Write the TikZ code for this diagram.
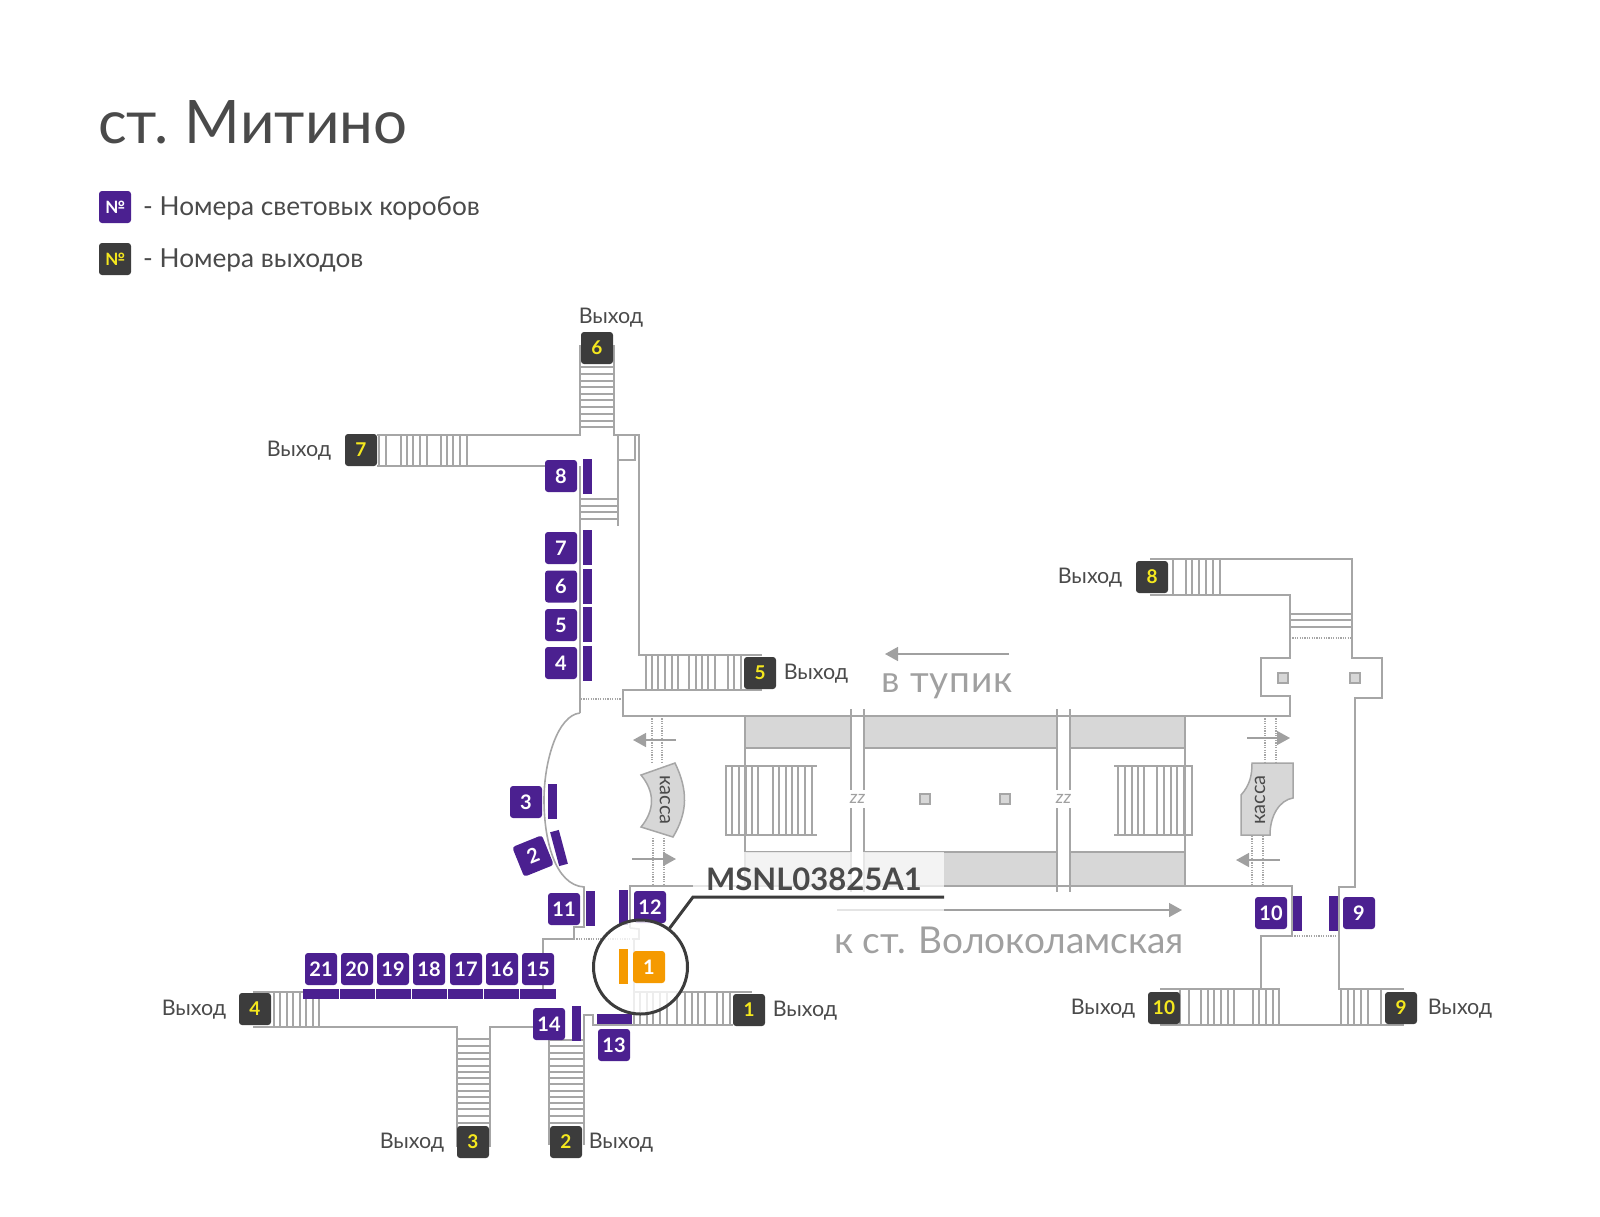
\documentclass[tikz,border=0pt]{standalone}
\usepackage{fontspec}
\setmainfont{Lato}
\usetikzlibrary{arrows.meta}
\definecolor{purp}{HTML}{4B2090}
\definecolor{darkb}{HTML}{3C3C3C}
\definecolor{yell}{HTML}{F5E81E}
\definecolor{wallc}{HTML}{A6A6A6}
\definecolor{grayf}{HTML}{D7D7D7}
\definecolor{oran}{HTML}{F59A00}
\definecolor{txt}{HTML}{4A4A4A}
\definecolor{arrc}{HTML}{A0A0A0}
\tikzset{
  x=1pt,y=-1pt,
  wall/.style={draw=wallc,line width=1.6pt},
  dots/.style={draw=wallc,line width=1.3pt,dash pattern=on 1.2pt off 1.2pt},
  grayrect/.style={fill=grayf,draw=wallc,line width=1.2pt},
  sq/.style={fill=grayf,draw=wallc,line width=1.2pt},
  kassa/.style={fill=grayf,draw=wallc,line width=1.5pt},
  pbox/.style={fill=purp,rounded corners=3pt,minimum size=32pt,inner sep=0pt,text=white,font=\fontsize{20}{20}\selectfont\bfseries},
  ebox/.style={fill=darkb,rounded corners=3pt,minimum size=32pt,inner sep=0pt,text=yell,font=\fontsize{19}{19}\selectfont\bfseries},
  obox/.style={fill=oran,rounded corners=3pt,minimum size=32pt,inner sep=0pt,text=white,font=\fontsize{20}{20}\selectfont\bfseries},
  pbar/.style={fill=purp,minimum width=9pt,minimum height=35pt,inner sep=0pt},
  obar/.style={fill=oran,minimum width=9pt,minimum height=35pt,inner sep=0pt},
  hbar/.style={fill=purp,minimum width=35pt,minimum height=10pt,inner sep=0pt},
  exitlab/.style={text=txt,inner sep=0pt,font=\fontsize{21.5}{21.5}\selectfont},
  kassat/.style={text=txt,inner sep=0pt,font=\fontsize{20}{20}\selectfont},
  dirlab/.style={text=arrc,inner sep=0pt,font=\addfontfeatures{LetterSpace=2}\fontsize{37}{37}\selectfont},
  dirlabb/.style={text=arrc,inner sep=0pt,font=\fontsize{37}{37}\selectfont},
  dirarr/.style={draw=arrc,line width=1.5pt,-{Triangle[length=13pt,width=14pt]}},
  zz/.style={text=arrc,inner sep=0pt,font=\fontsize{18}{18}\selectfont\itshape},
  legend/.style={text=txt,anchor=west,inner sep=0pt,font=\fontsize{26.2}{26.2}\selectfont}
}
\newcommand\vrungs[3]{\foreach \xx in {#1} \draw[wall] (\xx,#2) -- (\xx,#3);}
\newcommand\hrungs[3]{\foreach \yy in {#1} \draw[wall] (#2,\yy) -- (#3,\yy);}
\begin{document}
\begin{tikzpicture}
\useasboundingbox (0,0) rectangle (1600,1216);
% title and legend
\node[text=txt,anchor=base west,inner sep=0pt,font=\fontsize{60}{60}\selectfont] (title) at (98,143) {ст.\kern 16pt Митино};
\node[pbox,font=\fontsize{17}{17}\selectfont\bfseries] (legp) at (115,207) {№};
\node[ebox,font=\fontsize{17}{17}\selectfont\bfseries] (lege) at (115,259) {№};
\node[legend] (legpt) at (143,208) {- Номера световых коробов};
\node[legend] (legett) at (143,260) {- Номера выходов};
% gray platform bands
\foreach \a/\b in {745/851,864/1057,1070/1185} {
  \draw[grayrect] (\a,716) rectangle (\b,748);
  \draw[grayrect] (\a,852) rectangle (\b,886);
}
% north part walls
\draw[wall] (580,345) -- (580,435) -- (377,435);
\draw[wall] (614,345) -- (614,435) -- (639,435) -- (639,655) -- (762,655);
\draw[wall] (377,466) -- (577,466);
\draw[wall] (580,466) -- (580,713);
\draw[wall] (618,435) -- (618,526);
\draw[wall] (618,460) -- (635,460) -- (635,435);
\hrungs{367,374,381,387,394,400,407,414,421,427}{580}{614}
\vrungs{379,386,401,407,413,420,427,441,447,453,460,467}{435}{466}
\hrungs{499,506,512,519}{580}{618}
\vrungs{646,652,658,665,672,678,689,696,702,708,715,728,734,741}{655}{690}
% main hall
\draw[wall] (762,690) -- (623,690) -- (623,716) -- (1290,716) -- (1290,696) -- (1261,696) -- (1261,658) -- (1290,658) -- (1290,595) -- (1150,595);
\draw[wall] (1150,559) -- (1352,559) -- (1352,658) -- (1382,658) -- (1382,698) -- (1355,698) -- (1355,887) -- (1339,887) -- (1339,989) -- (1404,989);
\draw[dots] (581,699) -- (623,699);
\draw[wall] (580,713) .. controls (558,715) and (544,760) .. (544,800) .. controls (544,840) and (555,885) .. (584,887) -- (584,927) -- (574,927) -- (574,939) -- (543,939) -- (543,990);
\draw[wall] (745,716) -- (745,886);
\draw[wall] (1185,716) -- (1185,886);
\draw[wall] (630,928) -- (630,886) -- (1292,886) -- (1292,936) -- (1261,936) -- (1261,989);
\foreach \xx in {851,864,1057,1070} {
  \draw[wall] (\xx,709) -- (\xx,790);
  \draw[wall] (\xx,808) -- (\xx,892);
}
\node[zz] (zza) at (857.5,799) {zz};
\node[zz] (zzb) at (1063.5,799) {zz};
\node[sq,minimum size=10pt,inner sep=0pt] (sqa) at (925,799) {};
\node[sq,minimum size=10pt,inner sep=0pt] (sqb) at (1005,799) {};
\node[sq,minimum size=10pt,inner sep=0pt] (sqc) at (1283,678) {};
\node[sq,minimum size=10pt,inner sep=0pt] (sqd) at (1355,678) {};
% inner stairs
\vrungs{726,732,739,746,752,758,773,779,786,792,798,805,812}{766}{835}
\hrungs{766,835}{725}{817}
\vrungs{1118,1125,1132,1138,1144,1157,1164,1171,1177,1184,1192}{766}{835}
\hrungs{766,835}{1114}{1193}
% turnstile dotted lines
\draw[dots] (652,716) -- (652,762); \draw[dots] (662,716) -- (662,762);
\draw[dots] (653,838) -- (653,886); \draw[dots] (664,838) -- (664,886);
\draw[dots] (1265,716) -- (1265,763); \draw[dots] (1276,716) -- (1276,763);
\draw[dots] (1252,836) -- (1252,886); \draw[dots] (1263,836) -- (1263,886);
% kassa
\draw[kassa] (641,775) -- (675,763) .. controls (688,790) and (688,812) .. (673,837) -- (641,827) .. controls (655,810) and (655,792) .. (641,775) -- cycle;
\node[kassat,rotate=-90] (kassal) at (665,800) {касса};
\draw[kassa] (1252,763) -- (1293,763) -- (1293,798) .. controls (1280,800) and (1270,815) .. (1270,835) -- (1241,835) -- (1241,795) .. controls (1250,785) and (1252,775) .. (1252,763) -- cycle;
\node[kassat,rotate=90] (kassar) at (1260,800) {касса};
% direction arrows
\coordinate (a1s) at (676,740); \coordinate (a1e) at (633,740);
\coordinate (a2s) at (632,859); \coordinate (a2e) at (676,859);
\coordinate (a3s) at (1247,738); \coordinate (a3e) at (1290,738);
\coordinate (a4s) at (1280,860); \coordinate (a4e) at (1236,860);
\coordinate (a5s) at (1009,654); \coordinate (a5e) at (885,654);
\coordinate (a6s) at (837,910); \coordinate (a6e) at (1182,910);
\draw[dirarr] (a1s) -- (a1e);
\draw[dirarr] (a2s) -- (a2e);
\draw[dirarr] (a3s) -- (a3e);
\draw[dirarr] (a4s) -- (a4e);
\draw[dirarr] (a5s) -- (a5e);
\draw[dirarr] (a6s) -- (a6e);
\node[dirlab] (tup) at (947,686) {в тупик};
\node[dirlabb] (vol) at (1009,940) {к ст. Волоколамская};
% north-east and south-east stairs
\vrungs{1173,1186,1192,1199,1206,1213,1220}{559}{595}
\hrungs{614,620,627}{1290}{1352}
\draw[dots] (1290,638) -- (1352,638);
\draw[wall] (1160,989) -- (1279,989) -- (1279,1025);
\draw[wall] (1160,1025) -- (1404,1025);
\draw[dots] (1292,936) -- (1339,936);
\vrungs{1180,1189,1201,1208,1214,1221,1228,1234,1253,1259,1266,1273,1279}{989}{1025}
\vrungs{1341,1348,1354,1361,1368,1381}{989}{1025}
% south-west part
\draw[wall] (303,992) -- (253,992);
\draw[wall] (253,1027) -- (457,1027) -- (457,1147);
\draw[wall] (533,1027) -- (490,1027) -- (490,1147);
\vrungs{274,280,287,293,300,306,313,319}{992}{1027}
\hrungs{1039,1046,1053,1059,1066,1072,1078,1084,1091,1097,1103,1109,1116,1123}{457}{490}
\draw[wall] (549,1145) -- (549,1040) -- (584,1040);
\draw[wall] (584,1145) -- (584,1015) -- (593,1015) -- (593,1025) -- (733,1025);
\draw[wall] (634,992) -- (752,992);
\hrungs{1046,1053,1059,1066,1072,1078,1084,1091,1097,1103,1109,1116,1123}{549}{584}
\vrungs{677,685,692,698,705,717,723,730}{992}{1025}
\vrungs{634,640,647,653,660,667}{992}{1025}
\draw[wall] (630,928) -- (639,929) -- (639,939) -- (634,939) -- (634,992);
\draw[dots] (574,939) -- (634,939);
% light boxes
\foreach \nn/\yy/\by in {8/476/476.5,7/548/547.5,6/586.5/586.5,5/625/624.5,4/663/663} {
  \node[pbox] (p\nn) at (561,\yy) {\nn};
  \node[pbar] (b\nn) at (587.5,\by) {};
}
\node[pbox] (p3) at (526,802) {3};
\node[pbar] (b3) at (552.5,801.5) {};
\node[pbox,rotate=22] (p2) at (533,856) {2};
\node[pbar,rotate=15] (b2) at (559,848) {};
\node[pbox] (p11) at (564,909) {11};
\node[pbar] (b11) at (590,908.5) {};
\node[pbar] (b12) at (623,907.5) {};
\node[pbox] (p12) at (650,907) {12};
\node[pbox] (p10) at (1271,913) {10};
\node[pbar] (b10) at (1297.5,913.5) {};
\node[pbar] (b9) at (1333,913.5) {};
\node[pbox] (p9) at (1359,913) {9};
\foreach \nn/\xx in {21/321,20/357,19/393,18/429,17/466,16/502,15/538}
  \node[pbox] (p\nn) at (\xx,969) {\nn};
\fill[purp] (303,989) rectangle (556,999);
\foreach \xx in {339,375,411,447,483,519}
  \draw[white,line width=.8pt] (\xx,989) -- (\xx,999);
\node[pbox] (p14) at (549,1024) {14};
\node[pbar] (b14) at (576,1023.5) {};
\node[hbar] (b13) at (614.5,1019) {};
\node[pbox] (p13) at (614,1045) {13};
% exits
\node[ebox] (e1) at (749,1010) {1};
\node[exitlab] (l1) at (805,1011) {Выход};
\node[ebox] (e2) at (566,1142) {2};
\node[exitlab] (l2) at (621,1143) {Выход};
\node[ebox] (e3) at (473,1142) {3};
\node[exitlab] (l3) at (412,1143) {Выход};
\node[ebox] (e4) at (255,1009) {4};
\node[exitlab] (l4) at (194,1010) {Выход};
\node[ebox] (e5) at (760,673) {5};
\node[exitlab] (l5) at (816,674) {Выход};
\node[ebox] (e6) at (597,348) {6};
\node[exitlab] (l6) at (611,318) {Выход};
\node[ebox] (e7) at (361,450) {7};
\node[exitlab] (l7) at (299,451) {Выход};
\node[ebox] (e8) at (1152,577) {8};
\node[exitlab] (l8) at (1090,578) {Выход};
\node[ebox] (e9) at (1401,1008) {9};
\node[exitlab] (l9) at (1460,1009) {Выход};
\node[ebox] (e10) at (1164,1008) {10};
\node[exitlab] (l10) at (1103,1009) {Выход};
% label background, lens, leader
\fill[white,opacity=.72] (693,852) rectangle (944,912);
\node[circle,draw=darkb,line width=3pt,fill=white,fill opacity=.8,draw opacity=1,minimum size=94pt,inner sep=0pt] (lens) at (640.5,967) {};
\node[obar] (b1) at (623,966.5) {};
\node[obox] (p1) at (649,967) {1};
\coordinate (leadr) at (944,897);
\coordinate (leadk) at (693,897);
\draw[draw=darkb,line width=3pt] (leadr) -- (leadk) -- (lens);
\node[text=txt,inner sep=0pt,font=\fontsize{31}{31}\selectfont\bfseries] (code) at (814,879) {MSNL03825A1};
\end{tikzpicture}
\end{document}
